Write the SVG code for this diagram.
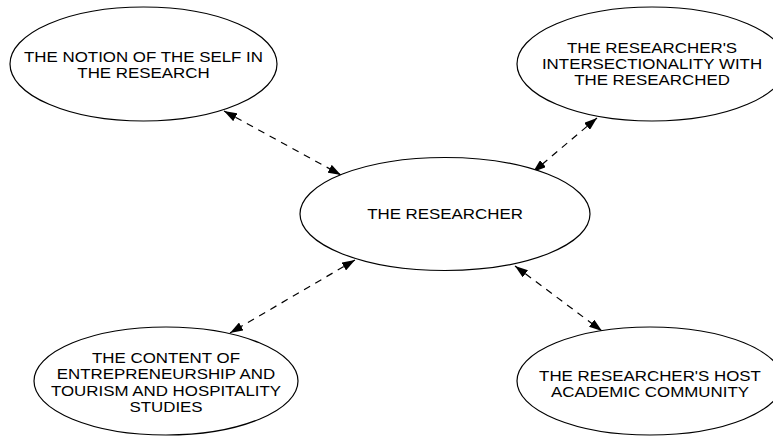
<svg xmlns="http://www.w3.org/2000/svg" width="773" height="436" viewBox="0 0 773 436">
  <defs>
    <marker id="arrow" viewBox="0 0 13 9" refX="13" refY="4.5" markerWidth="13" markerHeight="9" markerUnits="userSpaceOnUse" orient="auto-start-reverse">
      <path d="M0,0 L13,4.5 L0,9 Z" fill="#000"/>
    </marker>
  </defs>
  <style>
    .node ellipse { fill: #fff; stroke: #000; stroke-width: 1.2; }
    .node text { font-family: "Liberation Sans", Arial, sans-serif; font-size: 15.5px; fill: #000; text-anchor: middle; }
    .edge { fill: none; stroke: #000; stroke-width: 1.2; stroke-dasharray: 7 6; }
  </style>
  <rect width="773" height="436" fill="#fff"/>

  <g id="edges">
    <line class="edge" x1="224" y1="111" x2="341" y2="175" marker-start="url(#arrow)" marker-end="url(#arrow)"/>
    <line class="edge" x1="597" y1="118" x2="533" y2="172" marker-start="url(#arrow)" marker-end="url(#arrow)"/>
    <line class="edge" x1="355" y1="260" x2="230" y2="333" marker-start="url(#arrow)" marker-end="url(#arrow)"/>
    <line class="edge" x1="515" y1="266" x2="602" y2="331" marker-start="url(#arrow)" marker-end="url(#arrow)"/>
  </g>

  <g id="node-self" class="node">
    <ellipse cx="143.5" cy="64" rx="133.5" ry="57"/>
    <g transform="translate(143.5,0) scale(1.09,1)">
      <text x="0" y="62">THE NOTION OF THE SELF IN</text>
      <text x="0" y="78">THE RESEARCH</text>
    </g>
  </g>

  <g id="node-intersectionality" class="node">
    <ellipse cx="652" cy="64" rx="135" ry="57"/>
    <g transform="translate(652,0) scale(1.09,1)">
      <text x="0" y="53">THE RESEARCHER'S</text>
      <text x="0" y="69">INTERSECTIONALITY WITH</text>
      <text x="0" y="85">THE RESEARCHED</text>
    </g>
  </g>

  <g id="node-researcher" class="node">
    <ellipse cx="445" cy="214" rx="145" ry="56.5"/>
    <g transform="translate(445,0) scale(1.09,1)">
      <text x="0" y="219">THE RESEARCHER</text>
    </g>
  </g>

  <g id="node-content" class="node">
    <ellipse cx="166" cy="381" rx="132" ry="54"/>
    <g transform="translate(166,0) scale(1.09,1)">
      <text x="0" y="363">THE CONTENT OF</text>
      <text x="0" y="379">ENTREPRENEURSHIP AND</text>
      <text x="0" y="396">TOURISM AND HOSPITALITY</text>
      <text x="0" y="412">STUDIES</text>
    </g>
  </g>

  <g id="node-community" class="node">
    <ellipse cx="650" cy="381" rx="133" ry="54"/>
    <g transform="translate(650,0) scale(1.09,1)">
      <text x="0" y="381">THE RESEARCHER'S HOST</text>
      <text x="0" y="397">ACADEMIC COMMUNITY</text>
    </g>
  </g>
</svg>
